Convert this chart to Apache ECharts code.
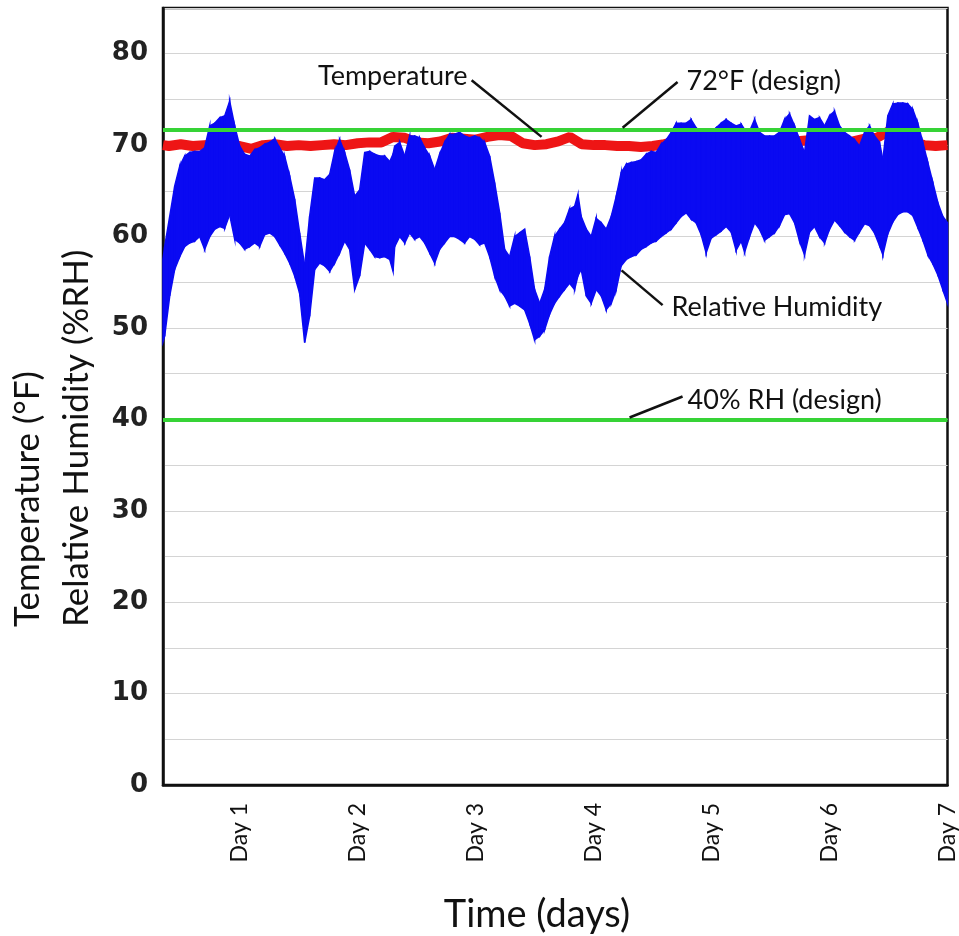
<!DOCTYPE html>
<html>
<head>
<meta charset="utf-8">
<script src="https://cdn.jsdelivr.net/npm/echarts@6/dist/echarts.min.js"></script>
<style>
  html, body { margin: 0; padding: 0; background: #fff; }
  #chart { width: 959px; height: 936px; }
</style>
</head>
<body>
<div id="chart"></div>
<script>
// relative humidity envelope, x in days
const rhDay = [0.35, 0.364, 0.407, 0.449, 0.492, 0.534, 0.576, 0.619, 0.661, 0.703, 0.746, 0.788, 0.831, 0.873, 0.915, 0.958,
  1.0, 1.042, 1.085, 1.127, 1.169, 1.212, 1.254, 1.297, 1.339, 1.381, 1.424, 1.466, 1.508, 1.551, 1.593, 1.636, 1.678, 1.72, 1.763, 1.805, 1.847, 1.89, 1.932, 1.975,
  2.017, 2.06, 2.102, 2.144, 2.187, 2.229, 2.272, 2.3, 2.314, 2.356, 2.399, 2.441, 2.483, 2.526, 2.568, 2.611, 2.653, 2.695, 2.737, 2.78, 2.822, 2.864, 2.907, 2.949, 2.992,
  3.034, 3.076, 3.119, 3.161, 3.204, 3.246, 3.288, 3.331, 3.373, 3.415, 3.458, 3.5, 3.543, 3.585, 3.627, 3.669, 3.712, 3.754, 3.796, 3.839, 3.867, 3.895, 3.938, 3.98,
  4.022, 4.065, 4.107, 4.15, 4.192, 4.234, 4.277, 4.319, 4.362, 4.404, 4.446, 4.489, 4.531, 4.573, 4.616, 4.658, 4.7, 4.742, 4.785, 4.827, 4.869, 4.912, 4.954, 4.996,
  5.039, 5.081, 5.124, 5.166, 5.208, 5.251, 5.28, 5.322, 5.365, 5.407, 5.449, 5.492, 5.534, 5.576, 5.619, 5.661, 5.704, 5.746, 5.788, 5.831, 5.873, 5.915, 5.958,
  6.0, 6.042, 6.085, 6.127, 6.169, 6.212, 6.254, 6.297, 6.339, 6.381, 6.424, 6.452, 6.494, 6.537, 6.579, 6.621, 6.664, 6.706, 6.748, 6.791, 6.833, 6.876, 6.918, 6.96, 7.0];
const rhLow = [48.5, 49.1, 53.5, 56.4, 57.8, 58.9, 59.3, 59.5, 60.0, 58.6, 60.0, 60.8, 61.1, 60.9, 62.4, 59.7,
  59.3, 58.6, 58.9, 59.3, 58.9, 60.2, 60.4, 60.0, 59.1, 58.2, 57.1, 55.7, 53.8, 48.4, 51.3, 56.4, 57.1, 56.8, 56.2, 57.1, 58.2, 59.5, 58.6, 54.2,
  55.7, 59.3, 58.6, 57.8, 57.7, 57.8, 57.5, 56.2, 58.9, 60.0, 59.3, 60.4, 59.7, 60.0, 59.3, 58.2, 57.1, 58.6, 59.3, 60.0, 60.0, 59.7, 59.3, 60.0, 59.7,
  59.1, 59.3, 57.8, 55.7, 54.2, 53.5, 52.4, 52.7, 52.4, 52.0, 50.5, 48.7, 49.1, 49.8, 51.5, 52.7, 53.5, 54.2, 54.9, 54.2, 55.7, 56.4, 53.5, 52.7,
  54.2, 53.5, 52.0, 52.7, 54.2, 56.8, 57.5, 57.8, 58.0, 58.6, 58.9, 59.3, 59.5, 60.0, 60.4, 60.8, 61.5, 62.2, 62.6, 61.9, 61.5, 60.2, 58.2, 59.8,
  60.2, 60.6, 61.1, 60.5, 58.5, 59.5, 58.3, 60.0, 61.5, 60.8, 59.6, 60.0, 60.4, 61.2, 62.4, 62.5, 61.5, 59.5, 58.0, 60.5, 61.1, 60.0, 59.3,
  60.8, 61.8, 61.2, 60.5, 60.0, 59.6, 60.5, 61.4, 61.2, 60.4, 59.0, 58.0, 60.3, 61.6, 62.4, 62.7, 62.7, 62.3, 61.0, 59.6, 58.0, 57.0, 55.8, 54.2, 52.7];
const rhHigh = [57.5, 58.9, 62.2, 65.5, 67.7, 68.8, 69.2, 69.3, 69.3, 69.7, 72.1, 72.4, 73.0, 73.2, 74.8, 72.1,
  69.9, 69.0, 68.8, 69.5, 69.7, 70.1, 70.3, 70.7, 69.7, 68.8, 66.6, 64.1, 60.4, 56.8, 62.2, 66.4, 66.4, 66.2, 66.8, 69.3, 70.6, 69.2, 67.3, 64.4,
  65.1, 69.2, 69.3, 69.0, 68.8, 68.8, 68.2, 69.0, 69.9, 70.3, 68.8, 71.0, 71.0, 70.8, 69.7, 68.8, 67.3, 69.0, 70.3, 71.2, 71.2, 71.4, 71.0, 70.8, 71.0,
  70.8, 70.3, 68.8, 65.9, 62.6, 58.6, 57.8, 60.0, 60.4, 60.8, 57.8, 54.2, 52.7, 54.2, 57.8, 60.0, 60.8, 61.5, 63.0, 63.3, 64.6, 62.2, 60.8, 60.0,
  62.0, 61.5, 60.8, 62.2, 64.4, 67.0, 67.9, 68.1, 68.2, 68.4, 69.0, 69.3, 69.2, 70.1, 70.6, 71.4, 72.4, 72.4, 72.4, 72.8, 71.9, 71.5, 71.4, 71.4,
  71.9, 72.4, 72.8, 72.4, 72.1, 72.3, 71.7, 71.5, 72.8, 71.4, 71.0, 71.0, 71.0, 71.4, 72.8, 73.4, 72.1, 70.6, 69.2, 73.2, 72.8, 73.0, 72.1,
  73.2, 73.7, 72.1, 71.4, 71.0, 70.6, 69.9, 71.4, 72.1, 71.0, 70.3, 68.4, 73.2, 74.5, 74.6, 74.6, 74.5, 73.9, 72.4, 70.3, 68.1, 65.9, 63.7, 62.2, 61.5];

// temperature trace
const tempDay = [0.35, 0.4, 0.5, 0.6, 0.7, 0.8, 0.9, 1.0, 1.1, 1.2, 1.3, 1.4, 1.5, 1.6, 1.7, 1.8, 1.9, 2.0, 2.1, 2.2, 2.3, 2.4, 2.5, 2.6, 2.7, 2.8, 2.9,
  3.0, 3.1, 3.2, 3.3, 3.4, 3.5, 3.6, 3.7, 3.8, 3.9, 4.0, 4.1, 4.2, 4.3, 4.4, 4.5, 4.6, 4.7, 4.8, 4.9, 5.0, 5.1, 5.2, 5.3, 5.4, 5.5, 5.6, 5.7, 5.8, 5.9,
  6.0, 6.1, 6.2, 6.3, 6.4, 6.5, 6.6, 6.7, 6.8, 6.9, 7.0];
const tempVal = [70.0, 69.9, 70.1, 69.9, 70.0, 70.1, 70.0, 69.9, 69.6, 70.0, 70.1, 69.9, 70.0, 69.9, 70.0, 70.1, 70.0, 70.2, 70.3, 70.3, 70.9, 70.8, 70.3, 70.2, 70.4, 70.8, 70.7,
  70.6, 70.9, 71.1, 71.0, 70.2, 70.0, 70.1, 70.4, 70.9, 70.1, 70.0, 70.0, 69.9, 69.9, 69.8, 69.9, 70.1, 70.4, 70.5, 70.6, 70.5, 70.4, 70.4, 70.4, 70.3, 70.4, 70.5, 70.4, 70.5, 70.4,
  70.3, 70.3, 70.4, 70.7, 70.8, 71.5, 70.8, 70.4, 70.0, 69.9, 70.0];

// design set points
const tempDesign = 71.7;
const rhDesign = 40;

// axis ticks
const dayTicks = [1, 2, 3, 4, 5, 6, 7];

const chart = echarts.init(document.getElementById('chart'));

const tempPts = tempDay.map((d, i) => [d, tempVal[i]]);
// one segment of the humidity band per item: [d0, low0, high0, d1, low1, high1]
const bandSegs = rhDay.slice(1).map((d, i) => [rhDay[i], rhLow[i], rhHigh[i], d, rhLow[i + 1], rhHigh[i + 1]]);

const BLUE = '#0a0af2';
const RED = '#ee1515';
const GREEN = '#36d336';

function renderBand(params, api) {
  const p = [
    api.coord([api.value(0), api.value(2)]),
    api.coord([api.value(3), api.value(5)]),
    api.coord([api.value(3), api.value(4)]),
    api.coord([api.value(0), api.value(1)])
  ];
  return {
    type: 'polygon',
    shape: { points: p },
    style: { fill: BLUE, stroke: BLUE, lineWidth: 1.5 }
  };
}

chart.setOption({
  animation: false,
  backgroundColor: '#fff',
  grid: {
    left: 163, right: 11, top: 8, bottom: 151,
    show: true, borderColor: '#111', borderWidth: 2.5, backgroundColor: 'transparent'
  },
  xAxis: {
    type: 'value', min: 0.35, max: 7,
    axisLine: { show: true, onZero: false, lineStyle: { color: '#111', width: 2.5 } },
    axisTick: { show: false },
    splitLine: { show: false },
    axisLabel: {
      customValues: dayTicks, rotate: 90, margin: 18,
      fontFamily: 'Lato', fontSize: 23, color: '#111',
      formatter: v => 'Day ' + v
    }
  },
  yAxis: {
    type: 'value', min: 0, max: 85, interval: 5,
    axisLine: { show: true, lineStyle: { color: '#111', width: 2.5 } },
    axisTick: { show: false },
    splitLine: { lineStyle: { color: '#d4d4d4', width: 1.2 } },
    axisLabel: {
      margin: 15, fontFamily: 'DejaVu Sans', fontWeight: 'bold', fontSize: 26, color: '#222',
      formatter: v => (v % 10 === 0 ? String(v) : '')
    }
  },
  series: [
    {
      name: 'Temperature', type: 'line', data: tempPts, z: 2,
      showSymbol: false, lineStyle: { color: RED, width: 10 }
    },
    {
      name: 'Relative Humidity', type: 'custom', data: bandSegs, z: 3,
      renderItem: renderBand,
      encode: { x: [0, 3], y: [1, 2, 4, 5] }
    },
    {
      name: 'design', type: 'line', data: [], z: 5,
      markLine: {
        silent: true, symbol: 'none', animation: false,
        label: { show: false },
        lineStyle: { color: GREEN, width: 4, type: 'solid' },
        data: [{ yAxis: tempDesign }, { yAxis: rhDesign }]
      }
    }
  ]
});

// annotations with leader lines, placed in data coordinates
const notes = [
  { text: 'Temperature', at: [2.932, 77.5], align: 'right', from: [2.966, 77.1], to: [3.559, 70.9] },
  { text: '72°F (design)', at: [4.788, 77.0], align: 'left', from: [4.712, 76.9], to: [4.246, 71.9] },
  { text: 'Relative Humidity', at: [4.661, 52.3], align: 'left', from: [4.585, 52.5], to: [4.237, 56.3] },
  { text: '40% RH (design)', at: [4.797, 42.1], align: 'left', from: [4.754, 42.5], to: [4.305, 40.2] }
];
const px = p => chart.convertToPixel({ gridIndex: 0 }, p);
const graphics = [];
notes.forEach(n => {
  const a = px(n.from), b = px(n.to), t = px(n.at);
  graphics.push({
    type: 'line', z: 20,
    shape: { x1: a[0], y1: a[1], x2: b[0], y2: b[1] },
    style: { stroke: '#111', lineWidth: 2.5 }
  });
  graphics.push({
    type: 'text', z: 20, x: t[0], y: t[1],
    style: { text: n.text, font: '27px Lato', fill: '#111', align: n.align, verticalAlign: 'middle' }
  });
});
graphics.push({
  type: 'text', z: 20, x: 52, y: 627, rotation: Math.PI / 2,
  style: {
    text: 'Temperature (°F)\nRelative Humidity (%RH)',
    font: '35px Lato', fill: '#111', align: 'left', verticalAlign: 'middle', lineHeight: 49
  }
});
graphics.push({
  type: 'text', z: 20, x: 537, y: 915,
  style: { text: 'Time (days)', font: '38px Lato', fill: '#111', align: 'center', verticalAlign: 'middle' }
});
chart.setOption({ graphic: graphics });
</script>
</body>
</html>
